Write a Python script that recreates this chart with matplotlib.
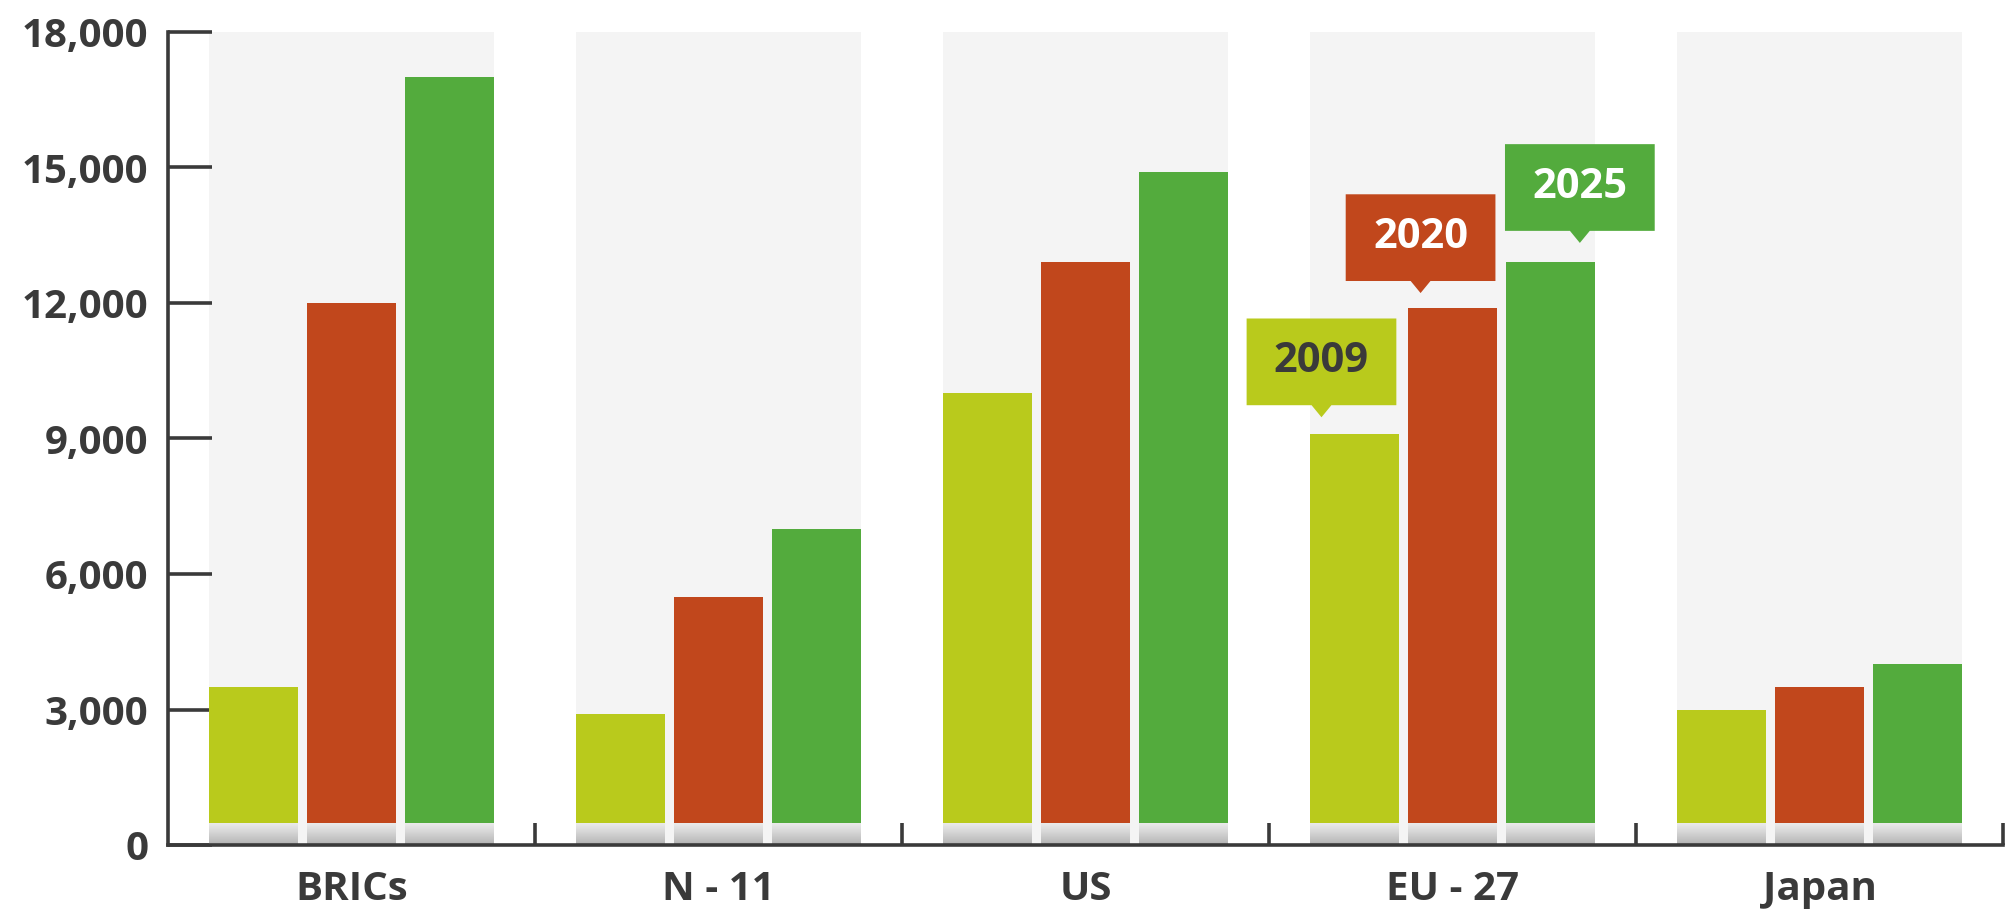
import numpy as np
import matplotlib.pyplot as plt
from matplotlib.patches import Polygon

categories = ['BRICs', 'N - 11', 'US', 'EU - 27', 'Japan']
years = ['2009', '2020', '2025']
v2009 = [3500, 2900, 10000, 9100, 3000]
v2020 = [12000, 5500, 12900, 11900, 3500]
v2025 = [17000, 7000, 14900, 12900, 4000]
yticks = [0, 3000, 6000, 9000, 12000, 15000, 18000]

colors = ['#b9ca1c', '#c1471c', '#53ab3d']
label_text_colors = ['#3a3a3a', 'white', 'white']
text_color = '#3a3a3a'

plt.rcParams['font.family'] = ['Open Sans', 'DejaVu Sans']
plt.rcParams['font.weight'] = 'bold'

fig = plt.figure(figsize=(20.05, 9.21), dpi=100)
ax = fig.add_axes([168 / 2005, 76 / 921, 1835 / 2005, 813 / 921])

x = np.arange(len(categories))
width = 0.2425
step = 0.267

# grey panels behind each group
for i in x:
    ax.axvspan(i - 0.388, i + 0.388, color='#f4f4f4', lw=0, zorder=0)

series = [v2009, v2020, v2025]
grad = np.linspace(0, 1, 50).reshape(-1, 1)
for k, vals in enumerate(series):
    pos = x + (k - 1) * step
    ax.bar(pos, vals, width=width, color=colors[k], zorder=2)
    for p in pos:
        ax.imshow(grad, cmap='Greys_r', vmin=-2.2, vmax=1.6, aspect='auto',
                  extent=[p - width / 2, p + width / 2, 0, 480],
                  origin='lower', zorder=3, interpolation='bilinear')

# callout labels on the EU - 27 group
eu = 3
offsets = [-0.09, -0.087, 0.08]
gaps = [370, 320, 430]
bw, bh, th, tw = 0.408, 1920, 267, 0.027
for k, vals in enumerate(series):
    cx = eu + (k - 1) * step + offsets[k]
    tip = vals[eu] + gaps[k]
    y0 = tip + th
    verts = [(cx - bw / 2, y0), (cx - tw, y0), (cx, tip), (cx + tw, y0),
             (cx + bw / 2, y0), (cx + bw / 2, y0 + bh), (cx - bw / 2, y0 + bh)]
    ax.add_patch(Polygon(verts, closed=True, color=colors[k], lw=0, zorder=4))
    ax.text(cx, y0 + bh / 2, years[k], ha='center', va='center',
            fontsize=30, fontweight='bold', color=label_text_colors[k], zorder=5)

ax.set_xlim(-0.5, 4.5)
ax.set_ylim(0, 18000)
ax.set_yticks(yticks)
ax.set_yticklabels([f'{v:,}' for v in yticks])
ax.set_xticks(x + 0.5)
ax.set_xticklabels([])
ax.set_xticks(x, minor=True)
ax.set_xticklabels(categories, minor=True)

for s in ['top', 'right']:
    ax.spines[s].set_visible(False)
for s in ['left', 'bottom']:
    ax.spines[s].set_color(text_color)
    ax.spines[s].set_linewidth(2.6)
    ax.spines[s].set_zorder(6)

ax.tick_params(axis='y', direction='in', length=32, width=2.6, color=text_color,
               labelsize=29, labelcolor=text_color, pad=14)
ax.tick_params(axis='x', which='major', direction='in', length=16, width=2.6,
               color=text_color)
ax.tick_params(axis='x', which='minor', length=0, labelsize=29,
               labelcolor=text_color, pad=18)
for lab in ax.get_yticklabels() + ax.get_xticklabels(minor=True):
    lab.set_fontweight('bold')

fig.savefig('out.png', dpi=100)
